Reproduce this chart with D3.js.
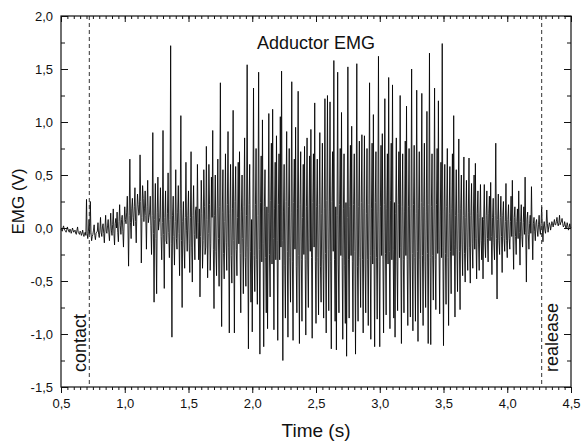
<!DOCTYPE html>
<html>
<head>
<meta charset="utf-8">
<script src="https://cdn.jsdelivr.net/npm/d3@7/dist/d3.min.js"></script>
<style>
  body { margin: 0; background: #fff; }
  text { font-family: "Liberation Sans", Arial, sans-serif; fill: #111; }
</style>
</head>
<body>
<div id="chart-container"></div>
<script>
const sampleStart = 0.5;
const sampleStep = 0.005;
const emg = [
  -0.01,-0.02,-0.03,0.00,0.02,-0.01,-0.02,-0.03,-0.04,-0.02,0.01,-0.01,-0.03,-0.04,-0.01,-0.02,-0.05,-0.03,0.00,-0.02,
  -0.04,-0.03,-0.02,-0.05,-0.06,-0.02,0.01,-0.04,-0.05,-0.06,-0.03,-0.04,-0.07,-0.05,-0.02,-0.06,-0.08,-0.05,-0.04,-0.07,
  0.27,-0.05,-0.10,-0.03,0.08,-0.06,0.25,-0.04,-0.12,-0.08,-0.06,-0.02,0.03,-0.07,-0.11,-0.05,-0.04,-0.03,0.05,-0.06,
  -0.09,-0.02,0.10,-0.04,-0.08,0.01,0.04,-0.05,-0.14,0.00,0.12,-0.03,-0.05,0.02,0.08,-0.04,-0.12,0.01,0.14,-0.02,
  -0.07,0.03,0.18,-0.05,-0.16,0.04,0.09,0.00,0.15,-0.04,-0.13,0.06,0.22,0.02,-0.06,0.08,0.12,-0.03,-0.18,0.05,
  0.20,0.08,0.04,0.15,0.30,0.02,-0.36,0.12,0.65,0.05,-0.10,0.18,0.28,0.10,0.02,0.20,0.38,0.06,-0.14,0.16,
  0.32,0.22,0.12,0.14,0.69,0.25,-0.33,0.10,0.40,0.28,0.06,0.18,0.35,0.12,-0.20,0.20,0.45,0.05,0.10,0.15,
  0.30,0.02,-0.25,0.12,0.90,-0.05,-0.70,0.08,0.42,-0.10,-0.62,0.15,0.48,-0.02,0.05,0.10,0.38,-0.08,-0.30,0.05,
  0.92,-0.06,-0.57,0.10,0.35,-0.12,-0.15,0.14,0.52,-0.04,-0.28,0.08,1.72,-0.15,-1.03,0.12,0.30,-0.08,-0.35,0.06,
  0.55,-0.10,-0.20,0.15,0.40,-0.05,-0.45,0.18,1.06,-0.12,-0.75,0.06,0.25,-0.16,-0.38,0.10,0.62,-0.02,-0.22,0.12,
  0.35,-0.15,-0.42,0.10,0.72,-0.18,-0.51,0.12,0.40,-0.06,-0.30,0.16,0.20,-0.10,0.60,0.05,-0.30,0.18,-0.65,-0.08,
  0.45,0.14,-0.38,-0.12,0.55,0.20,-0.25,-0.18,0.77,0.08,-0.47,-0.05,0.60,0.22,-0.40,-0.15,0.48,0.10,0.92,-0.20,
  -0.76,0.12,0.50,-0.22,-0.45,0.18,0.65,-0.10,-0.55,0.20,1.37,-0.16,-0.93,0.15,0.55,-0.24,-0.48,0.06,0.70,-0.14,
  -0.40,0.22,0.91,-0.18,-0.99,0.14,0.60,-0.26,-0.52,0.18,1.11,-0.12,-0.99,0.25,0.58,-0.20,-0.45,0.10,0.62,-0.15,
  0.72,-0.24,-0.80,0.16,0.50,-0.10,-0.62,0.20,0.85,-0.28,-0.55,0.12,1.54,-0.18,-1.14,0.22,0.60,-0.22,-0.70,0.08,
  -0.98,0.18,1.32,-0.26,-0.60,0.22,0.75,-0.30,-0.72,0.12,1.47,-0.20,-1.19,0.24,0.68,-0.32,1.02,-0.15,-1.12,0.20,
  0.55,-0.28,-0.80,0.20,-0.95,0.14,1.08,-0.25,-0.65,0.26,0.80,-0.34,1.12,-0.10,-0.96,0.18,0.62,-0.30,0.87,-0.12,
  -1.06,0.22,0.70,-0.30,1.05,-0.18,1.48,-0.12,-1.25,0.16,0.60,-0.35,-0.85,0.25,0.91,-0.22,-1.03,0.20,0.75,-0.28,
  -0.70,0.15,1.38,-0.32,-1.06,0.24,0.65,-0.20,0.95,-0.36,-0.80,0.18,1.29,-0.26,-1.09,0.22,0.72,-0.30,-0.88,0.10,
  0.60,-0.25,0.77,-0.30,-1.01,0.20,0.85,-0.34,-0.75,0.16,0.68,-0.22,0.93,-0.28,-1.04,0.24,0.70,-0.18,1.18,-0.32,
  -0.90,0.20,0.65,-0.28,-0.82,0.22,0.90,-0.36,-0.70,0.14,0.80,-0.30,-0.85,0.18,1.22,-0.24,-0.99,0.26,1.25,-0.20,
  -0.78,0.16,1.19,-0.32,-1.14,0.25,0.72,-0.22,1.58,-0.30,-0.88,0.20,-1.15,0.12,1.47,-0.34,-0.80,0.22,0.75,-0.26,
  1.09,-0.28,-1.05,0.18,0.70,-0.35,-0.90,0.24,-1.21,0.10,1.52,-0.30,-0.85,0.20,0.78,-0.26,0.96,-0.32,-0.98,0.22,
  0.70,-0.22,-1.19,0.16,1.55,-0.36,-0.88,0.20,0.82,-0.28,-0.75,0.24,0.88,-0.30,-0.99,0.18,0.87,-0.34,-0.80,0.14,
  0.75,-0.30,-0.92,0.22,1.37,-0.26,-1.05,0.18,0.80,-0.34,1.07,-0.20,-1.12,0.24,0.72,-0.28,-0.86,0.16,1.62,-0.32,
  -1.12,0.20,0.78,-0.26,0.89,-0.30,-0.99,0.22,1.22,-0.24,-0.82,0.18,0.70,-0.34,1.42,-0.22,-0.95,0.26,0.80,-0.30,
  1.35,-0.20,-0.85,0.24,-1.03,0.14,0.85,-0.32,-0.78,0.22,0.72,-0.28,1.25,-0.18,-1.09,0.20,0.70,-0.30,-0.80,0.16,
  0.82,-0.26,1.15,-0.30,-0.92,0.20,0.75,-0.34,-0.84,0.18,1.50,-0.24,-0.97,0.22,0.78,-0.28,-0.88,0.14,1.30,-0.22,
  -1.07,0.18,0.72,-0.30,-0.80,0.24,1.27,-0.26,-0.92,0.20,0.80,-0.32,-0.75,0.16,1.10,-0.24,-1.09,0.22,1.65,-0.28,
  -1.10,0.20,0.70,-0.26,-0.68,0.18,1.32,-0.30,-0.77,0.22,0.75,-0.24,1.20,-0.20,-0.81,0.16,0.62,-0.28,1.74,-0.18,
  -1.11,0.16,0.60,-0.24,-0.72,0.20,0.75,-0.28,-0.92,0.14,0.58,-0.22,-0.62,0.18,0.70,-0.26,1.06,-0.16,-0.84,0.12,
  0.55,-0.20,-0.60,0.14,0.84,-0.22,-0.77,0.18,0.50,-0.16,-0.45,0.12,0.67,-0.24,-0.51,0.10,0.45,-0.18,-0.40,0.15,
  0.66,-0.18,-0.52,0.12,0.42,-0.15,-0.38,0.16,0.50,-0.20,0.61,-0.10,-0.48,0.14,0.35,-0.16,-0.40,0.10,0.41,-0.12,
  -0.30,0.10,-0.48,0.08,0.41,-0.14,-0.28,0.12,0.35,-0.10,-0.32,0.14,0.30,-0.12,0.43,-0.08,-0.44,0.10,0.28,-0.14,
  -0.30,0.12,0.80,-0.10,-0.67,0.08,0.32,-0.12,-0.25,0.10,0.30,-0.08,-0.42,0.12,0.25,-0.10,-0.22,0.06,0.42,-0.12,
  -0.28,0.08,0.22,-0.10,-0.20,0.06,0.30,-0.08,0.45,-0.06,-0.39,0.10,0.20,-0.08,-0.25,0.06,0.18,-0.10,0.35,-0.04,
  -0.35,0.06,0.22,-0.08,-0.18,0.05,0.20,-0.06,0.48,-0.04,-0.51,0.08,0.15,-0.06,-0.20,0.04,0.12,-0.05,0.39,-0.02,
  -0.30,0.04,0.10,-0.03,-0.12,0.05,0.08,-0.02,-0.08,0.03,0.12,-0.01,-0.06,0.04,0.20,0.00,-0.13,0.02,0.06,-0.02,
  -0.05,0.02,0.17,0.04,-0.04,0.01,0.05,0.03,-0.02,0.02,0.06,0.04,0.01,0.05,0.08,0.03,0.03,0.06,0.10,0.04,
  0.02,0.05,0.12,0.03,0.05,0.06,0.09,0.04,0.01,0.02,0.06,0.03,-0.01,0.01,0.05,0.02,-0.02,0.00,0.04,0.01,
  0.00
];

const xMajor = [0.5, 1.0, 1.5, 2.0, 2.5, 3.0, 3.5, 4.0, 4.5];
const yMajor = [-1.5, -1.0, -0.5, 0.0, 0.5, 1.0, 1.5, 2.0];
const markerTimes = [0.722, 4.27];
const markerLabels = ["contact", "realease"];

const width = 582, height = 443;
const margin = { top: 16, right: 11, bottom: 56, left: 61 };

const svg = d3.select("#chart-container")
  .append("svg")
  .attr("width", width)
  .attr("height", height);

const x = d3.scaleLinear().domain([0.5, 4.5]).range([margin.left, width - margin.right]);
const y = d3.scaleLinear().domain([-1.5, 2.0]).range([height - margin.bottom, margin.top]);

// comma decimals, plain hyphen for minus
const fmt = d3.formatLocale({ decimal: ",", thousands: ".", grouping: [3], currency: ["", ""], minus: "-" }).format(".1f");

const xMinor = d3.range(0.5, 4.5001, 0.05).map(v => +v.toFixed(2));
const yMinor = d3.range(-1.5, 2.0001, 0.25).map(v => +v.toFixed(2));

// signal
const line = d3.line()
  .x((d, i) => x(sampleStart + i * sampleStep))
  .y(d => y(d));

svg.append("path")
  .datum(emg)
  .attr("d", line)
  .attr("fill", "none")
  .attr("stroke", "#000")
  .attr("stroke-width", 0.85);

// contact / release markers
svg.selectAll(".marker")
  .data(markerTimes)
  .enter()
  .append("line")
  .attr("class", "marker")
  .attr("x1", d => x(d)).attr("x2", d => x(d))
  .attr("y1", y(2.0)).attr("y2", y(-1.5))
  .attr("stroke", "#333")
  .attr("stroke-width", 1)
  .attr("stroke-dasharray", "4,3");

svg.selectAll(".marker-label")
  .data(markerTimes)
  .enter()
  .append("text")
  .attr("class", "marker-label")
  .attr("transform", (d, i) => `translate(${x(d) + (i === 0 ? -3 : 16)}, 372) rotate(-90)`)
  .attr("font-size", 18)
  .text((d, i) => markerLabels[i]);

// axes
function styleAxis(g) {
  g.select(".domain").remove();
  g.selectAll(".tick line").attr("stroke", "#111");
  g.selectAll(".tick text").attr("font-size", 13).attr("fill", "#111")
    .style("font-family", '"Liberation Sans", Arial, sans-serif');
}

const bottomY = y(-1.5), topY = y(2.0), leftX = x(0.5), rightX = x(4.5);

svg.append("g").attr("transform", `translate(0,${bottomY})`)
  .call(d3.axisBottom(x).tickValues(xMinor).tickSize(3).tickFormat("")).call(styleAxis);
svg.append("g").attr("transform", `translate(0,${bottomY})`)
  .call(d3.axisBottom(x).tickValues(xMajor).tickSize(6).tickPadding(6).tickFormat(fmt)).call(styleAxis);
svg.append("g").attr("transform", `translate(0,${topY})`)
  .call(d3.axisTop(x).tickValues(xMinor).tickSize(-3).tickFormat("")).call(styleAxis);
svg.append("g").attr("transform", `translate(0,${topY})`)
  .call(d3.axisTop(x).tickValues(xMajor).tickSize(-6).tickFormat("")).call(styleAxis);

svg.append("g").attr("transform", `translate(${leftX},0)`)
  .call(d3.axisLeft(y).tickValues(yMinor).tickSize(-4).tickFormat("")).call(styleAxis);
svg.append("g").attr("transform", `translate(${leftX},0)`)
  .call(d3.axisLeft(y).tickValues(yMajor).tickSize(-7).tickPadding(8).tickFormat(fmt)).call(styleAxis);
svg.append("g").attr("transform", `translate(${rightX},0)`)
  .call(d3.axisRight(y).tickValues(yMinor).tickSize(-4).tickFormat("")).call(styleAxis);
svg.append("g").attr("transform", `translate(${rightX},0)`)
  .call(d3.axisRight(y).tickValues(yMajor).tickSize(-7).tickFormat("")).call(styleAxis);

// frame
svg.append("rect")
  .attr("x", leftX).attr("y", topY)
  .attr("width", rightX - leftX).attr("height", bottomY - topY)
  .attr("fill", "none")
  .attr("stroke", "#111")
  .attr("stroke-width", 1.2);

// titles
svg.append("text")
  .attr("x", (leftX + rightX) / 2).attr("y", 49)
  .attr("text-anchor", "middle")
  .attr("font-size", 18)
  .text("Adductor EMG");

svg.append("text")
  .attr("x", (leftX + rightX) / 2).attr("y", 437)
  .attr("text-anchor", "middle")
  .attr("font-size", 19)
  .text("Time (s)");

svg.append("text")
  .attr("transform", `translate(24, ${(topY + bottomY) / 2}) rotate(-90)`)
  .attr("text-anchor", "middle")
  .attr("font-size", 17)
  .text("EMG (V)");
</script>
</body>
</html>
